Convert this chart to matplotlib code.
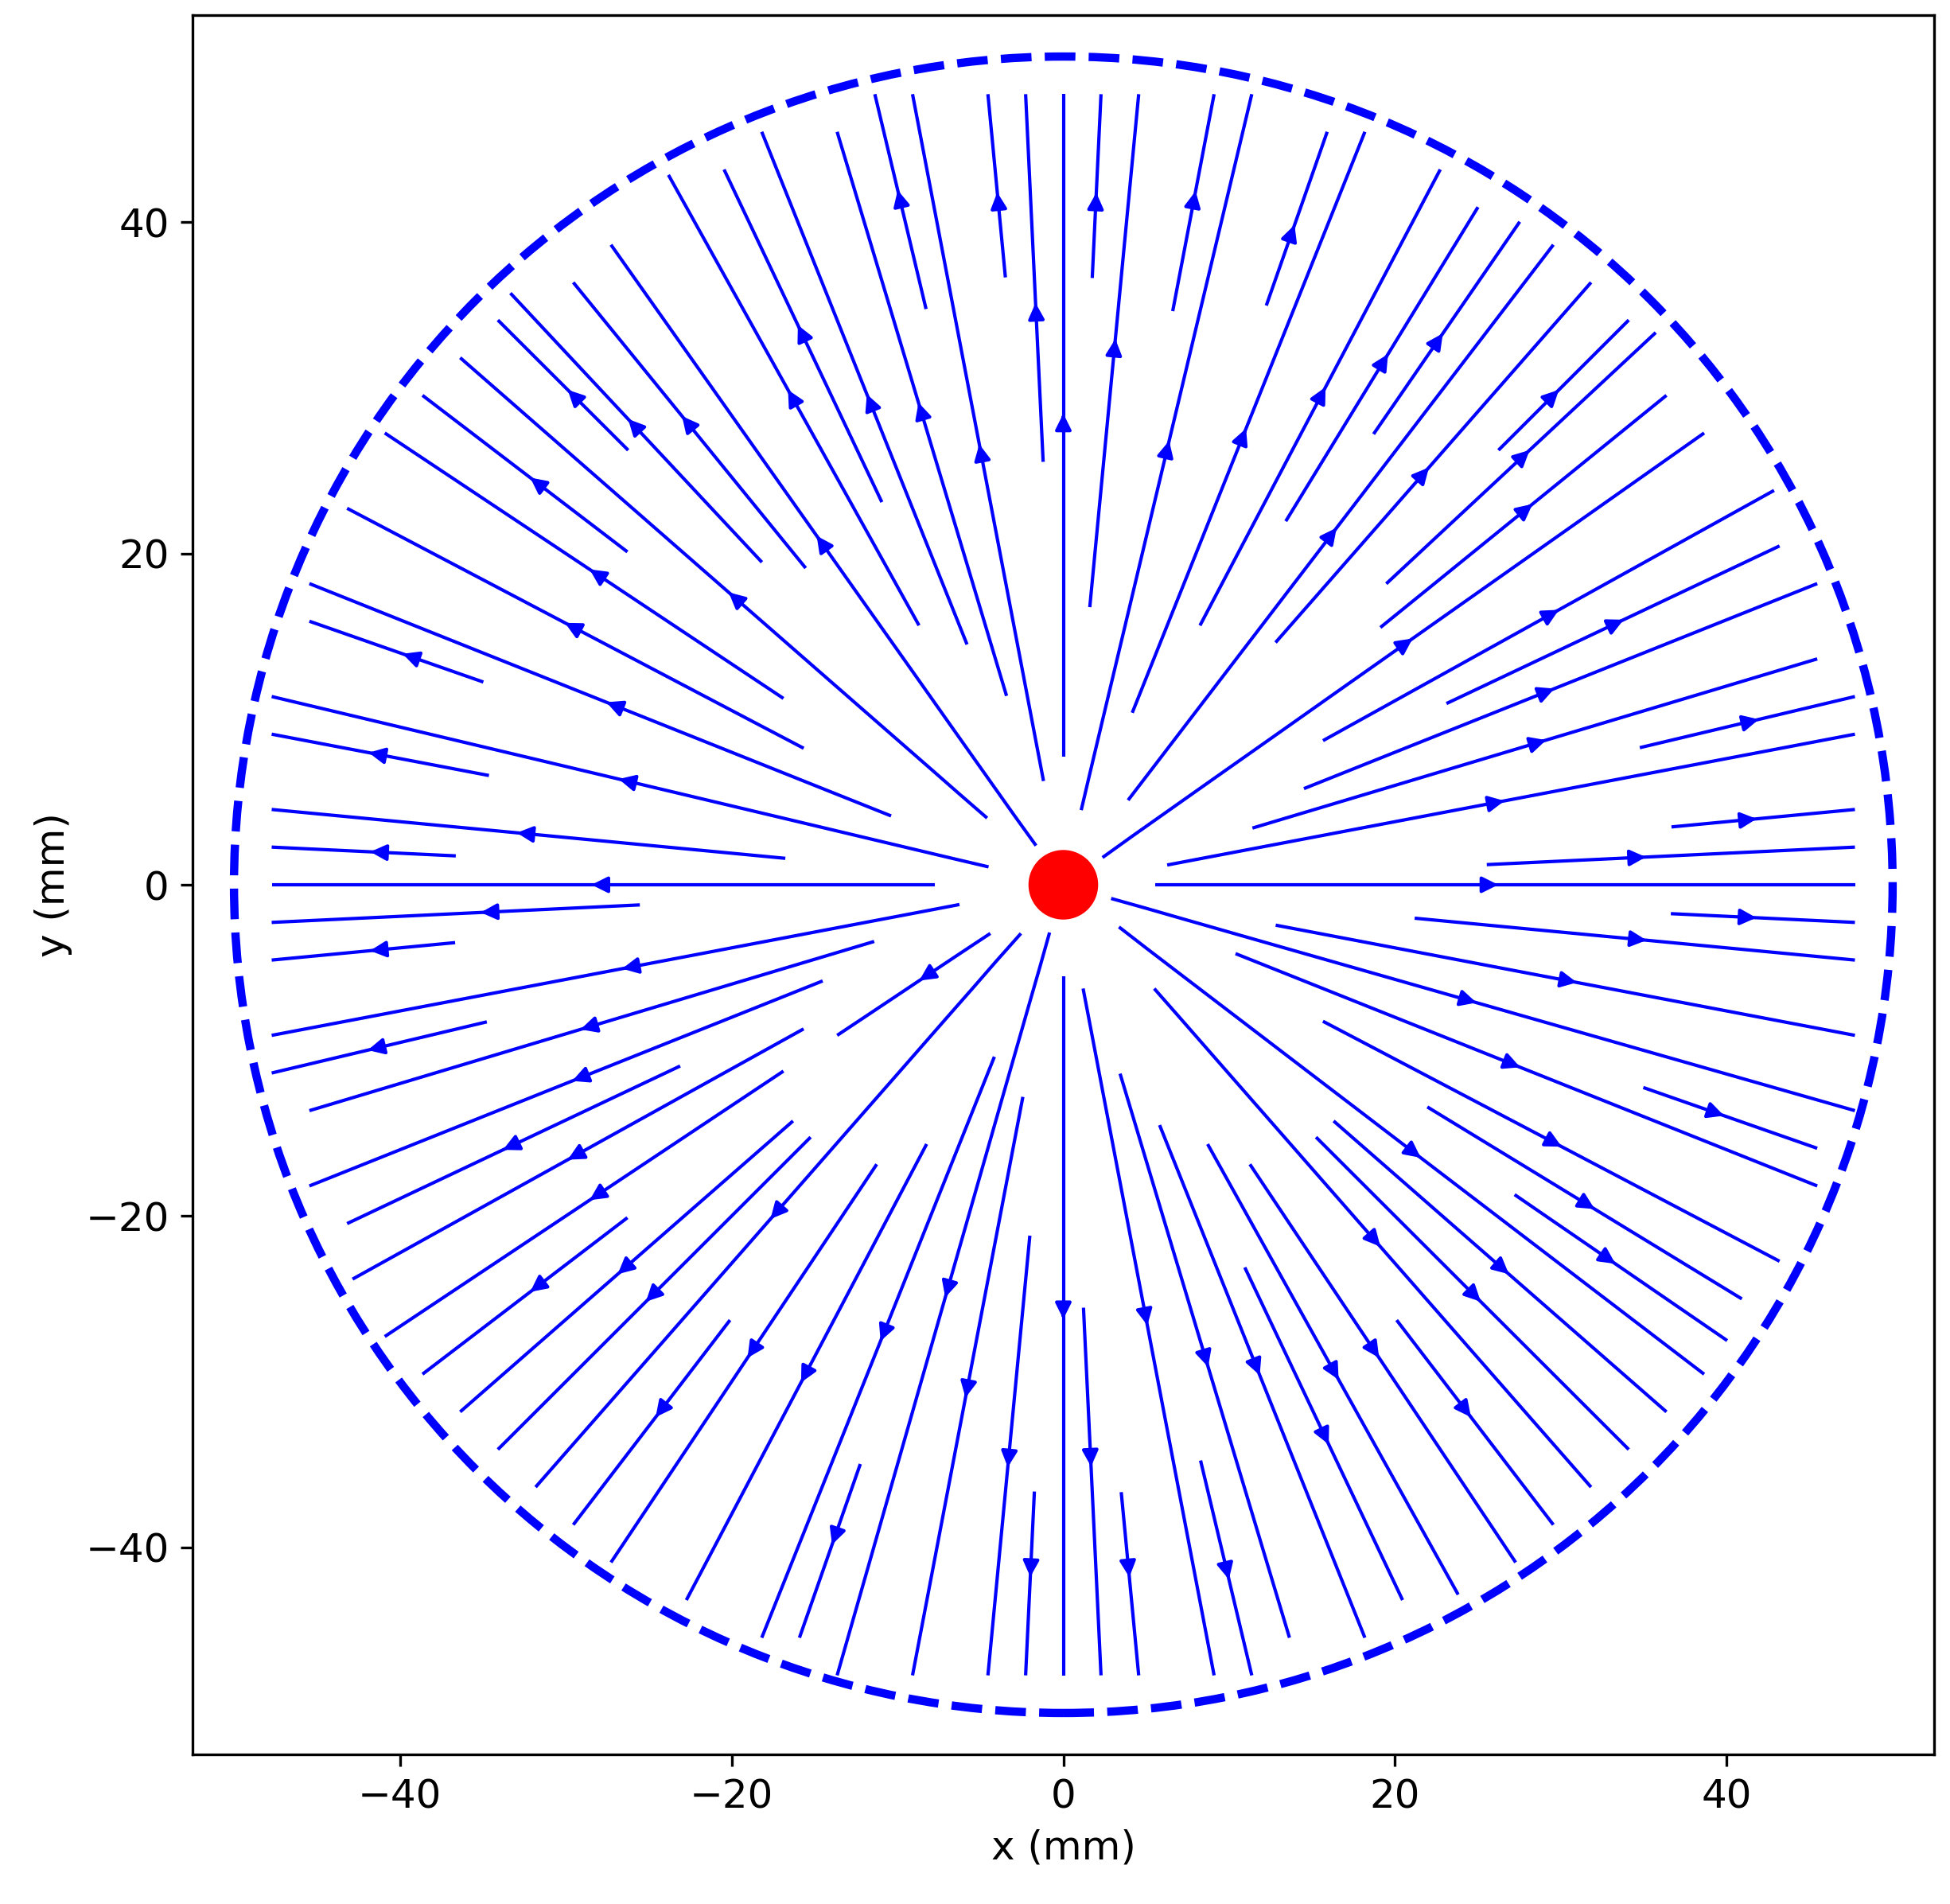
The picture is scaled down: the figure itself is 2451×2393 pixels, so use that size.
import numpy as np
import matplotlib
matplotlib.use("Agg")
import matplotlib.pyplot as plt
from matplotlib.patches import Circle

# point charge at origin inside a circular domain
CHARGE_XY = (0.0, 0.0)
CHARGE_RADIUS = 2.0      # mm, drawn as the red dot
DOMAIN_RADIUS = 50.0     # mm, dashed boundary
AX_LIM = 52.5
GRID_N = 100


def main():
    plt.rcParams.update({"font.size": 12})

    x = np.linspace(-DOMAIN_RADIUS, DOMAIN_RADIUS, GRID_N)
    y = np.linspace(-DOMAIN_RADIUS, DOMAIN_RADIUS, GRID_N)
    X, Y = np.meshgrid(x, y)
    dx = X - CHARGE_XY[0]
    dy = Y - CHARGE_XY[1]
    r = np.hypot(dx, dy)
    r3 = np.where(r > 0, r**3, np.nan)
    Ex = dx / r3
    Ey = dy / r3
    mask = (r > DOMAIN_RADIUS) | (r < CHARGE_RADIUS)
    Ex = np.ma.array(Ex, mask=mask)
    Ey = np.ma.array(Ey, mask=mask)

    fig = plt.figure(figsize=(2451 / 300, 2393 / 300))
    ax = fig.add_axes([242 / 2451, 188 / 2393, 2189 / 2451, 2186 / 2393])
    ax.streamplot(X, Y, Ex, Ey, color="blue", density=1.5, linewidth=1)

    ax.add_patch(Circle(CHARGE_XY, CHARGE_RADIUS, color="red", zorder=5))
    ax.add_patch(Circle((0, 0), DOMAIN_RADIUS, fill=False, ls="--",
                        lw=2.5, ec="blue"))

    ax.set_aspect("equal", adjustable="datalim")
    ax.set_xlim(-AX_LIM, AX_LIM)
    ax.set_ylim(-AX_LIM, AX_LIM)
    ax.set_xlabel("x (mm)")
    ax.set_ylabel("y (mm)")

    fig.savefig("out.png", dpi=300)


if __name__ == "__main__":
    main()
